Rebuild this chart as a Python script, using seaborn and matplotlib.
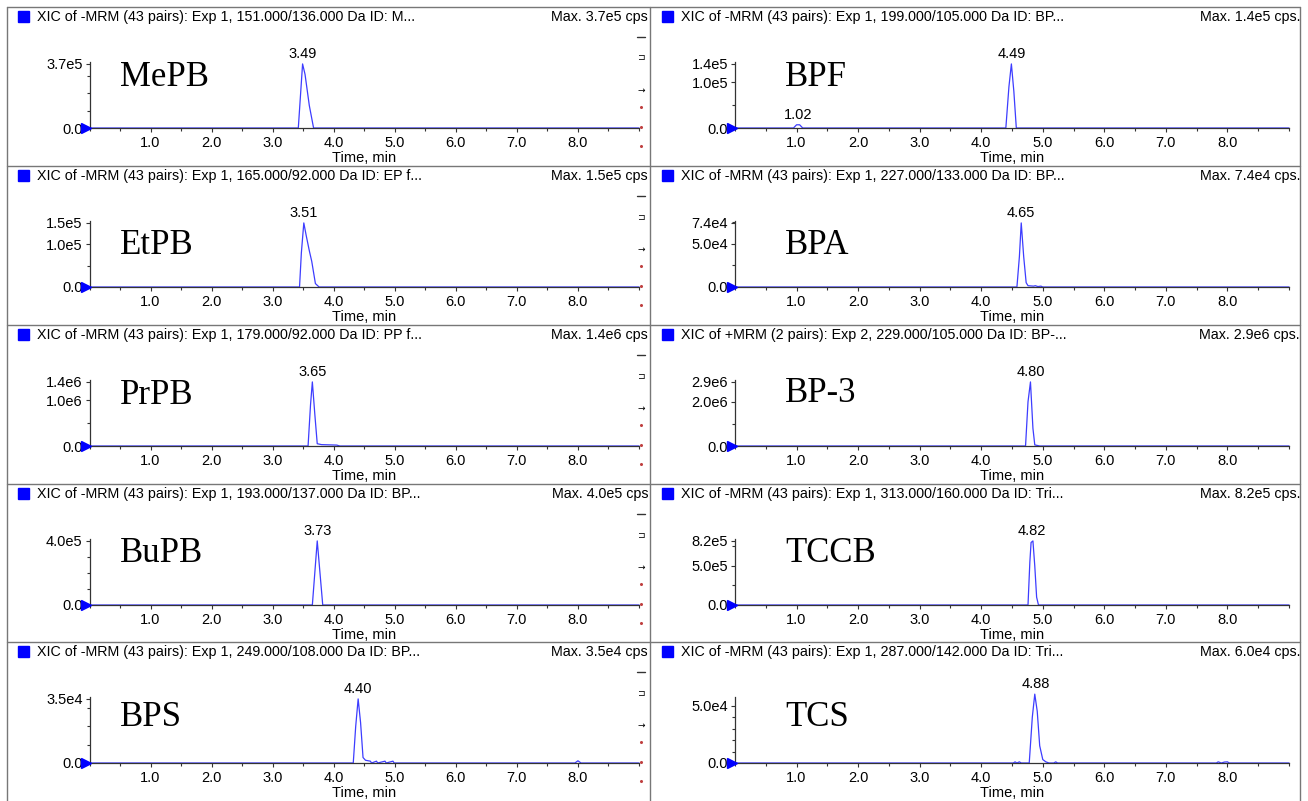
"""
XIC chromatograms of ten analytes (MRM), 5 x 2 panel layout
"""

import numpy as np
import pandas as pd
import matplotlib
matplotlib.use("Agg")
import matplotlib.pyplot as plt
from matplotlib.patches import Rectangle
from matplotlib.lines import Line2D
from matplotlib.ticker import MultipleLocator
import seaborn as sns

sns.set_style("white")
plt.rcParams["font.family"] = ["Liberation Sans", "DejaVu Sans"]
plt.rcParams["text.color"] = "black"
plt.rcParams["xtick.color"] = "black"
plt.rcParams["ytick.color"] = "black"
plt.rcParams["axes.labelcolor"] = "black"

# ---- data ----
names = ["MePB", "EtPB", "PrPB", "BuPB", "BPS",
         "BPF", "BPA", "BP-3", "TCCB", "TCS"]

headers = [
    "XIC of -MRM (43 pairs): Exp 1, 151.000/136.000 Da ID: M...",
    "XIC of -MRM (43 pairs): Exp 1, 165.000/92.000 Da ID: EP f...",
    "XIC of -MRM (43 pairs): Exp 1, 179.000/92.000 Da ID: PP f...",
    "XIC of -MRM (43 pairs): Exp 1, 193.000/137.000 Da ID: BP...",
    "XIC of -MRM (43 pairs): Exp 1, 249.000/108.000 Da ID: BP...",
    "XIC of -MRM (43 pairs): Exp 1, 199.000/105.000 Da ID: BP...",
    "XIC of -MRM (43 pairs): Exp 1, 227.000/133.000 Da ID: BP...",
    "XIC of +MRM (2 pairs): Exp 2, 229.000/105.000 Da ID: BP-...",
    "XIC of -MRM (43 pairs): Exp 1, 313.000/160.000 Da ID: Tri...",
    "XIC of -MRM (43 pairs): Exp 1, 287.000/142.000 Da ID: Tri...",
]

max_cps = [3.7e5, 1.5e5, 1.4e6, 4.0e5, 3.5e4,
           1.4e5, 7.4e4, 2.9e6, 8.2e5, 6.0e4]

y_ticks = [
    [0, 3.7e5],
    [0, 1.0e5, 1.5e5],
    [0, 1.0e6, 1.4e6],
    [0, 4.0e5],
    [0, 3.5e4],
    [0, 1.0e5, 1.4e5],
    [0, 5.0e4, 7.4e4],
    [0, 2.0e6, 2.9e6],
    [0, 5.0e5, 8.2e5],
    [0, 5.0e4],
]

peak_rt = [[3.49], [3.51], [3.65], [3.73], [4.40],
           [1.02, 4.49], [4.65], [4.80], [4.82], [4.88]]

# retention time (min) / intensity (cps) of the traces, baseline = 0
mepb_t = [0.0, 3.42, 3.49, 3.53, 3.60, 3.67, 9.0]
mepb_i = [0, 0, 3.7e5, 3.1e5, 1.3e5, 0, 0]

etpb_t = [0.0, 3.44, 3.47, 3.51, 3.55, 3.60, 3.64, 3.70, 3.76, 9.0]
etpb_i = [0, 0, 0.8e5, 1.5e5, 1.2e5, 0.85e5, 0.6e5, 0.08e5, 0, 0]

prpb_t = [0.0, 3.58, 3.62, 3.65, 3.69, 3.73, 3.80, 4.05, 4.10, 9.0]
prpb_i = [0, 0, 0.9e6, 1.4e6, 0.7e6, 0.05e6, 0.03e6, 0.02e6, 0, 0]

bupb_t = [0.0, 3.65, 3.73, 3.82, 9.0]
bupb_i = [0, 0, 4.0e5, 0, 0]

bps_t = [0.0, 4.32, 4.36, 4.40, 4.44, 4.48, 4.52, 4.60, 4.62, 4.70, 4.72,
         4.84, 4.86, 4.97, 4.99, 7.95, 8.00, 8.05, 9.0]
bps_i = [0, 0, 2.0e4, 3.5e4, 2.2e4, 0.3e4, 0.15e4, 0.1e4, 0, 0.1e4, 0,
         0.1e4, 0, 0.1e4, 0, 0, 0.12e4, 0, 0]

bpf_t = [0.0, 0.95, 1.00, 1.05, 1.10, 4.40, 4.45, 4.49, 4.53, 4.57, 9.0]
bpf_i = [0, 0, 0.07e5, 0.07e5, 0, 0, 0.9e5, 1.4e5, 0.8e5, 0, 0]

bpa_t = [0.0, 4.58, 4.62, 4.65, 4.69, 4.73, 4.76, 4.85, 4.88, 4.92, 4.97, 5.00, 9.0]
bpa_i = [0, 0, 3.5e4, 7.4e4, 3.5e4, 0.5e4, 0.15e4, 0.1e4, 0.15e4, 0.05e4, 0.1e4, 0, 0]

bp3_t = [0.0, 4.72, 4.76, 4.80, 4.84, 4.87, 4.95, 9.0]
bp3_i = [0, 0, 2.0e6, 2.9e6, 0.8e6, 0.05e6, 0, 0]

tccb_t = [0.0, 4.76, 4.79, 4.81, 4.84, 4.87, 4.90, 4.93, 9.0]
tccb_i = [0, 0, 5.5e5, 8.0e5, 8.2e5, 5.0e5, 1.0e5, 0, 0]

tcs_t = [0.0, 4.52, 4.55, 4.58, 4.62, 4.65, 4.78, 4.83, 4.87, 4.91, 4.95,
         5.00, 5.05, 5.10, 5.18, 5.21, 5.24, 7.82, 7.85, 7.90, 7.95, 8.00, 8.03, 9.0]
tcs_i = [0, 0, 0.1e4, 0, 0.1e4, 0, 0, 4.0e4, 6.0e4, 4.5e4, 1.5e4,
         0.3e4, 0.1e4, 0, 0, 0.1e4, 0, 0, 0.1e4, 0, 0.08e4, 0.1e4, 0, 0]

traces = [(mepb_t, mepb_i), (etpb_t, etpb_i), (prpb_t, prpb_i),
          (bupb_t, bupb_i), (bps_t, bps_i), (bpf_t, bpf_i),
          (bpa_t, bpa_i), (bp3_t, bp3_i), (tccb_t, tccb_i), (tcs_t, tcs_i)]

# ---- layout (pixels of the 1308 x 801 picture) ----
W, H = 1308, 801
row_top = [7, 166, 325, 484, 642]
base_off = 121          # baseline below panel top
ax_h = 66               # axis height in px
col_left = [7, 651]
ax_left = [89.5, 735]
ax_right = [639, 1289]
label_x = [120, 785]
label_dy = [[50, 41, 50, 52, 46], [51, 41, 52, 52, 46]]
y_minor = [1e5, 0.5e5, 0.5e6, 1e5, 1e4, 0.5e5, 2.5e4, 1e6, 2.5e5, 1e4]
y_top = [1.03 * m for m in max_cps[:9]] + [5.75e4]
trace_color = "#3d3dff"
frame_color = "#777777"
tick_fs = 10.5
head_fs = 10.3


def fx(px):
    return px / W


def fy(py):
    return 1 - py / H


def fmt(v):
    if v == 0:
        return "0.0"
    m, e = f"{v:.1e}".split("e")
    return f"{m}e{int(e)}"


fig = plt.figure(figsize=(W / 100, H / 100), dpi=100)

# panel frame lines
for y in row_top:
    fig.add_artist(Line2D([fx(7), fx(1300)], [fy(y), fy(y)], color=frame_color, lw=1.0))
for x in [7, 650, 1300]:
    fig.add_artist(Line2D([fx(x), fx(x)], [fy(row_top[0]), 0], color=frame_color, lw=1.0))

for k in range(10):
    col, row = divmod(k, 5)
    top = row_top[row]
    base = top + base_off
    t, inten = traces[k]

    ax = fig.add_axes([fx(ax_left[col]), fy(base),
                       fx(ax_right[col]) - fx(ax_left[col]), ax_h / H])
    df = pd.DataFrame({"Time": t, "Intensity": inten})
    sns.lineplot(data=df, x="Time", y="Intensity", ax=ax, color=trace_color,
                 linewidth=0.9, estimator=None, sort=False)
    for ln in ax.lines:
        ln.set_clip_on(False)
    ax.set_xlim(0, 9.0)
    ax.set_ylim(0, y_top[k])

    for side in ["top", "right"]:
        ax.spines[side].set_visible(False)
    for side in ["left", "bottom"]:
        ax.spines[side].set_color("#333333")
        ax.spines[side].set_linewidth(0.9)

    ax.set_xticks(range(1, 9))
    ax.set_xticklabels([f"{v:.1f}" for v in range(1, 9)], fontsize=tick_fs)
    ax.xaxis.set_minor_locator(MultipleLocator(0.5))
    ax.set_yticks(y_ticks[k])
    ax.set_yticklabels([fmt(v) for v in y_ticks[k]], fontsize=tick_fs)
    ax.yaxis.set_minor_locator(MultipleLocator(y_minor[k]))
    ax.tick_params(which="both", direction="out", length=3, width=0.8,
                   color="#333333", bottom=True, left=True)
    ax.tick_params(axis="x", which="major", pad=2.5)
    ax.tick_params(axis="y", which="major", pad=2)
    ax.tick_params(which="minor", length=2)

    ax.set_xlabel("Time, min", fontsize=tick_fs)
    ax.set_ylabel("")
    ax.xaxis.label.set_va("center")
    ax.xaxis.set_label_coords(0.5, -30 / ax_h)

    # origin marker
    ax.plot([-0.05], [0], marker=">", color="#0000ff", markersize=6.5,
            clip_on=False, zorder=5)

    # retention time labels
    t_arr = np.array(t)
    i_arr = np.array(inten)
    for rt in peak_rt[k]:
        near = np.abs(t_arr - rt) < 0.08
        top_val = i_arr[near].max()
        ax.annotate(f"{rt:.2f}", (rt, top_val), xytext=(0, 2),
                    textcoords="offset points", ha="center", va="bottom",
                    fontsize=tick_fs, annotation_clip=False)

    # header: blue square, trace description, max intensity
    sq_x = col_left[col] + 11
    fig.add_artist(Rectangle((fx(sq_x), fy(top + 15)), 11 / W, 11 / H,
                             color="#0000ff", transform=fig.transFigure))
    fig.text(fx(sq_x + 19), fy(top + 10), headers[k], fontsize=head_fs,
             va="center", ha="left")
    max_txt = f"Max. {fmt(max_cps[k])} cps" + ("." if col == 1 else "")
    fig.text(fx(648 if col == 0 else 1300), fy(top + 10), max_txt,
             fontsize=head_fs, va="center", ha="right")

    # analyte name
    fig.text(fx(label_x[col]), fy(base - label_dy[col][row]), names[k],
             fontsize=25, family=["Liberation Serif", "DejaVu Serif"],
             color="black", va="center", ha="left")

    # small marks at the right edge of the left column
    if col == 0:
        mx = fx(641)
        fig.add_artist(Line2D([fx(637), fx(645)], [fy(base - 91)] * 2,
                              color="#333333", lw=1.0))
        fig.text(mx, fy(base - 70), "\u2290", fontsize=6.5, ha="center",
                 va="center", family=["DejaVu Sans"])
        fig.text(mx, fy(base - 38), "\u2192", fontsize=6.5, ha="center",
                 va="center", family=["DejaVu Sans"])
        for d in [-21, -1, 18]:
            fig.add_artist(Line2D([mx], [fy(base + d)], marker="o",
                                  markersize=1.2, color="#c04040", lw=0))

fig.savefig("out.png", dpi=100)
